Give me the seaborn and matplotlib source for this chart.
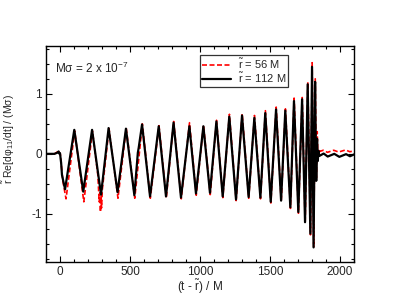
import matplotlib
matplotlib.use("Agg")
import matplotlib.pyplot as plt
import seaborn as sns
import pandas as pd
from matplotlib.ticker import MultipleLocator

# r~ = 112 M (black, solid): extrema
t_112 = [-100, -40, -18, -10, -4, 0, 8, 14, 36, 102, 166, 229, 293, 347, 411, 471,
         531, 556, 562, 586, 643, 705, 757, 811, 864, 924, 971, 1024, 1071, 1117,
         1162, 1209, 1257, 1300, 1347, 1388, 1431, 1466, 1505, 1543, 1579, 1609,
         1645, 1671, 1702, 1729, 1750, 1769, 1788, 1800, 1811, 1822, 1830, 1836,
         1841, 1846, 1852, 1883, 1912, 1959, 1995, 2043, 2071, 2100]
v_112 = [0.0, 0.0, 0.02, 0.04, 0.0, 0.01, -0.15, -0.35, -0.59, 0.40, -0.63, 0.40,
         -0.68, 0.43, -0.64, 0.42, -0.69, 0.02, 0.10, 0.49, -0.71, 0.46, -0.71, 0.52,
         -0.73, 0.46, -0.66, 0.46, -0.65, 0.54, -0.71, 0.62, -0.76, 0.64, -0.72,
         0.60, -0.73, 0.68, -0.80, 0.74, -0.78, 0.72, -0.89, 0.88, -0.97, 0.91,
         -1.14, 1.16, -1.33, 1.45, -1.56, 1.20, -0.45, 0.25, -0.12, 0.05, -0.035,
         0.005, -0.045, 0.0, -0.05, -0.005, -0.04, -0.01]

# r~ = 56 M (red, dashed)
t_56 = [-100, -40, -20, -12, -5, 2, 12, 20, 43, 105, 170, 232, 270, 280, 284, 289,
        293, 297, 302, 350, 414, 473, 534, 588, 645, 707, 759, 812, 866, 925, 973,
        1025, 1073, 1118, 1163, 1210, 1258, 1301, 1348, 1389, 1432, 1467, 1506,
        1544, 1580, 1610, 1646, 1672, 1703, 1730, 1751, 1770, 1789, 1801, 1812,
        1823, 1831, 1837, 1842, 1848, 1855, 1880, 1910, 1955, 1990, 2040, 2070, 2100]
v_56 = [0.0, 0.0, 0.03, 0.06, 0.02, 0.0, -0.25, -0.45, -0.75, 0.38, -0.80, 0.38,
        -0.35, -0.80, -0.65, -0.97, -0.70, -0.90, -0.60, 0.42, -0.74, 0.43, -0.74,
        0.50, -0.74, 0.47, -0.74, 0.54, -0.75, 0.52, -0.69, 0.48, -0.68, 0.56,
        -0.73, 0.66, -0.78, 0.67, -0.74, 0.64, -0.75, 0.72, -0.82, 0.78, -0.80,
        0.75, -0.91, 0.93, -0.99, 0.94, -1.16, 1.20, -1.35, 1.52, -1.55, 1.25,
        -0.40, 0.37, -0.05, 0.08, 0.04, 0.06, 0.025, 0.06, 0.03, 0.065, 0.035, 0.05]

xticks = [0, 500, 1000, 1500, 2000]
yticks = [-1, 0, 1]

sns.set_style("ticks")
plt.rcParams['font.family'] = ['Liberation Sans', 'DejaVu Sans']
plt.rcParams['mathtext.fontset'] = 'custom'
plt.rcParams['mathtext.rm'] = 'Liberation Sans'
plt.rcParams['mathtext.it'] = 'Liberation Sans:italic'
plt.rcParams['mathtext.sf'] = 'Liberation Sans'

fig = plt.figure(figsize=(3.99, 3.08), dpi=100)
ax = fig.add_axes([0.1153, 0.150, 0.772, 0.701])

df56 = pd.DataFrame({"t": t_56, "v": v_56})
df112 = pd.DataFrame({"t": t_112, "v": v_112})

sns.lineplot(data=df56, x="t", y="v", ax=ax, color="#ff0000", lw=1.2,
             linestyle=(0, (3, 1.5)), label=r"$\tilde{\mathrm{r}}$ = 56 M", sort=False)
sns.lineplot(data=df112, x="t", y="v", ax=ax, color="black", lw=1.6,
             label=r"$\tilde{\mathrm{r}}$ = 112 M", sort=False)
for ln in ax.get_lines():
    ln.set_solid_joinstyle('round')
    ln.set_dash_joinstyle('round')

ax.set_xlim(-100, 2100)
ax.set_ylim(-1.8, 1.8)
ax.set_xticks(xticks)
ax.set_yticks(yticks)
ax.set_xticklabels([str(x) for x in xticks])
ax.set_yticklabels([str(y) for y in yticks])
ax.xaxis.set_minor_locator(MultipleLocator(100))
ax.yaxis.set_minor_locator(MultipleLocator(0.25))
ax.tick_params(which='both', direction='in', top=True, right=True, labelsize=8.5,
               width=0.8, color='black', pad=3)
ax.tick_params(which='major', length=4.5)
ax.tick_params(which='minor', length=2.5)
for s in ax.spines.values():
    s.set_color('black')
    s.set_linewidth(1.0)

ax.set_xlabel(r"(t - $\tilde{\mathrm{r}}$) / M", fontsize=8.5, labelpad=0)
ax.set_ylabel(r"$\tilde{\mathrm{r}}$ Re[dφ$_{11}$/dt] / (Mσ)", fontsize=7.5)
ax.yaxis.set_label_coords(-0.095, 0.57)

ax.text(0.03, 0.93, r"Mσ = 2 x 10$^{-7}$", transform=ax.transAxes,
        fontsize=8.5, va='top', ha='left')

leg = ax.legend(loc='upper left', bbox_to_anchor=(0.5, 0.96), borderaxespad=0,
                fontsize=8, frameon=True, fancybox=False, handlelength=2.6,
                handletextpad=0.6, borderpad=0.2, labelspacing=0.0)
leg.get_frame().set_edgecolor('black')
leg.get_frame().set_linewidth(0.9)

fig.savefig("out.png", dpi=100)
